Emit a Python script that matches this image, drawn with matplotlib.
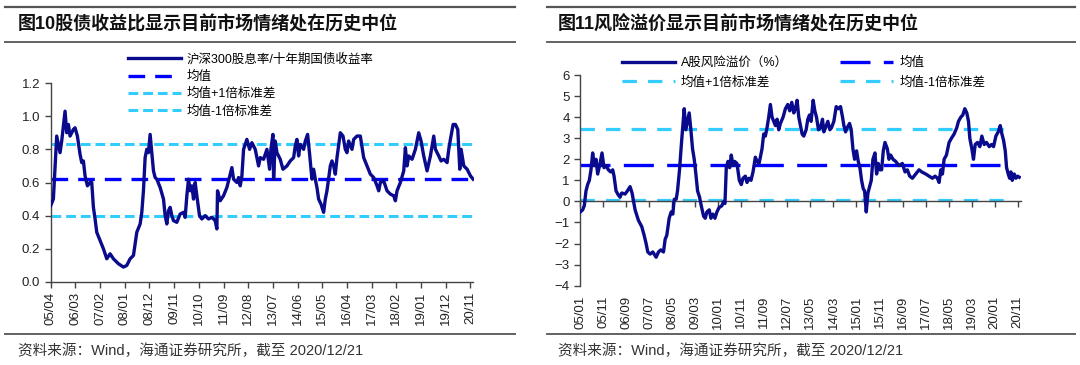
import matplotlib
matplotlib.use("Agg")
import matplotlib.pyplot as plt
from matplotlib.lines import Line2D

# ---------------- data ----------------
# Figure 10: CSI300 dividend yield / 10Y treasury yield (x in decimal years)
left_x = [2005.250, 2005.349, 2005.473, 2005.597, 2005.659, 2005.783, 2005.845, 2005.907, 2005.969,
          2006.093, 2006.154, 2006.241, 2006.340, 2006.402, 2006.464, 2006.526, 2006.613, 2006.712,
          2006.774, 2006.836, 2006.898, 2006.960, 2007.084, 2007.208, 2007.332, 2007.455, 2007.579,
          2007.765, 2007.951, 2008.075, 2008.199, 2008.323, 2008.447, 2008.571, 2008.633, 2008.694,
          2008.756, 2008.818, 2008.880, 2008.942, 2009.004, 2009.066, 2009.128, 2009.190, 2009.314,
          2009.438, 2009.500, 2009.562, 2009.624, 2009.686, 2009.748, 2009.810, 2009.933, 2010.057,
          2010.181, 2010.243, 2010.305, 2010.367, 2010.429, 2010.491, 2010.553, 2010.615, 2010.677,
          2010.776, 2010.863, 2010.987, 2011.111, 2011.234, 2011.358, 2011.420, 2011.445, 2011.544,
          2011.668, 2011.792, 2011.916, 2011.978, 2012.040, 2012.164, 2012.226, 2012.288, 2012.350,
          2012.412, 2012.535, 2012.635, 2012.721, 2012.845, 2012.969, 2013.031, 2013.155, 2013.279,
          2013.378, 2013.427, 2013.502, 2013.527, 2013.589, 2013.650, 2013.774, 2013.874, 2014.022,
          2014.146, 2014.270, 2014.332, 2014.394, 2014.456, 2014.518, 2014.642, 2014.704, 2014.790,
          2014.865, 2014.951, 2015.013, 2015.075, 2015.137, 2015.199, 2015.286, 2015.385, 2015.447,
          2015.509, 2015.633, 2015.695, 2015.757, 2015.819, 2015.881, 2016.005, 2016.104, 2016.190,
          2016.252, 2016.314, 2016.438, 2016.500, 2016.624, 2016.748, 2016.872, 2016.996, 2017.120,
          2017.244, 2017.368, 2017.430, 2017.492, 2017.615, 2017.739, 2017.863, 2017.987, 2018.049,
          2018.111, 2018.235, 2018.359, 2018.421, 2018.483, 2018.545, 2018.669, 2018.792, 2018.916,
          2019.003, 2019.102, 2019.226, 2019.350, 2019.474, 2019.536, 2019.660, 2019.746, 2019.846,
          2019.970, 2020.031, 2020.093, 2020.193, 2020.279, 2020.366, 2020.440, 2020.490, 2020.589,
          2020.713, 2020.837, 2020.936]
left_y = [0.46, 0.50, 0.88, 0.78, 0.85, 1.03, 0.90, 0.95, 0.88,
          0.92, 0.93, 0.88, 0.77, 0.72, 0.73, 0.64, 0.58, 0.60,
          0.60, 0.45, 0.38, 0.30, 0.25, 0.20, 0.14, 0.17, 0.14,
          0.11, 0.09, 0.10, 0.14, 0.16, 0.30, 0.35, 0.42, 0.55,
          0.75, 0.80, 0.78, 0.89, 0.78, 0.67, 0.63, 0.62, 0.57,
          0.50, 0.40, 0.35, 0.43, 0.45, 0.40, 0.37, 0.36, 0.41,
          0.42, 0.39, 0.52, 0.62, 0.55, 0.58, 0.50, 0.60, 0.52,
          0.40, 0.38, 0.40, 0.38, 0.39, 0.37, 0.32, 0.55, 0.49,
          0.52, 0.57, 0.65, 0.69, 0.62, 0.60, 0.63, 0.58, 0.64,
          0.80, 0.86, 0.80, 0.84, 0.80, 0.70, 0.75, 0.74, 0.80,
          0.68, 0.80, 0.89, 0.62, 0.85, 0.78, 0.74, 0.68, 0.70,
          0.73, 0.75, 0.82, 0.86, 0.76, 0.83, 0.80, 0.85, 0.89,
          0.77, 0.62, 0.68, 0.62, 0.57, 0.50, 0.47, 0.42, 0.50,
          0.55, 0.70, 0.73, 0.70, 0.65, 0.75, 0.90, 0.88, 0.80,
          0.78, 0.85, 0.80, 0.86, 0.88, 0.88, 0.75, 0.70, 0.65,
          0.63, 0.58, 0.55, 0.60, 0.61, 0.55, 0.53, 0.52, 0.49,
          0.55, 0.60, 0.67, 0.81, 0.70, 0.76, 0.74, 0.80, 0.90,
          0.85, 0.76, 0.67, 0.76, 0.88, 0.80, 0.76, 0.73, 0.74,
          0.72, 0.80, 0.86, 0.95, 0.95, 0.92, 0.68, 0.80, 0.70,
          0.68, 0.64, 0.62]
left_mean, left_up, left_dn = 0.62, 0.83, 0.40
left_ticklabels = ["05/04", "06/03", "07/02", "08/01", "08/12", "09/11", "10/10", "11/09", "12/08",
                   "13/07", "14/06", "15/05", "16/04", "17/03", "18/02", "19/01", "19/12", "20/11"]

# Figure 11: A-share equity risk premium (%)
right_x = [2005.000, 2005.085, 2005.145, 2005.206, 2005.266, 2005.327, 2005.387, 2005.448, 2005.508,
           2005.569, 2005.629, 2005.714, 2005.786, 2005.859, 2005.931, 2006.016, 2006.101, 2006.173,
           2006.222, 2006.294, 2006.379, 2006.439, 2006.500, 2006.621, 2006.706, 2006.802, 2006.875,
           2006.984, 2007.105, 2007.226, 2007.310, 2007.383, 2007.443, 2007.528, 2007.625, 2007.746,
           2007.831, 2007.915, 2008.012, 2008.072, 2008.133, 2008.218, 2008.290, 2008.351, 2008.399,
           2008.472, 2008.520, 2008.593, 2008.665, 2008.762, 2008.822, 2008.883, 2008.943, 2009.004,
           2009.064, 2009.125, 2009.185, 2009.246, 2009.318, 2009.379, 2009.464, 2009.524, 2009.584,
           2009.669, 2009.730, 2009.802, 2009.875, 2009.947, 2010.020, 2010.129, 2010.189, 2010.238,
           2010.286, 2010.347, 2010.407, 2010.467, 2010.528, 2010.588, 2010.673, 2010.758, 2010.830,
           2010.891, 2010.976, 2011.036, 2011.109, 2011.181, 2011.254, 2011.338, 2011.399, 2011.471,
           2011.520, 2011.580, 2011.641, 2011.701, 2011.762, 2011.822, 2011.883, 2011.943, 2012.004,
           2012.064, 2012.125, 2012.185, 2012.246, 2012.342, 2012.427, 2012.512, 2012.584, 2012.657,
           2012.730, 2012.790, 2012.850, 2012.911, 2012.971, 2013.032, 2013.092, 2013.177, 2013.238,
           2013.298, 2013.358, 2013.431, 2013.492, 2013.552, 2013.625, 2013.697, 2013.770, 2013.818,
           2013.879, 2013.963, 2014.036, 2014.096, 2014.181, 2014.266, 2014.338, 2014.423, 2014.495,
           2014.544, 2014.604, 2014.665, 2014.750, 2014.810, 2014.871, 2014.931, 2015.004, 2015.064,
           2015.125, 2015.185, 2015.245, 2015.294, 2015.354, 2015.415, 2015.475, 2015.536, 2015.596,
           2015.669, 2015.729, 2015.790, 2015.850, 2015.911, 2015.971, 2016.032, 2016.116, 2016.177,
           2016.237, 2016.322, 2016.419, 2016.540, 2016.661, 2016.758, 2016.842, 2016.927, 2017.024,
           2017.145, 2017.266, 2017.362, 2017.508, 2017.628, 2017.749, 2017.846, 2017.931, 2017.991,
           2018.052, 2018.112, 2018.173, 2018.257, 2018.354, 2018.439, 2018.536, 2018.632, 2018.693,
           2018.778, 2018.850, 2018.923, 2018.995, 2019.056, 2019.104, 2019.177, 2019.237, 2019.298,
           2019.383, 2019.467, 2019.540, 2019.625, 2019.709, 2019.806, 2019.891, 2019.963, 2020.048,
           2020.132, 2020.205, 2020.266, 2020.326, 2020.387, 2020.435, 2020.495, 2020.544, 2020.592,
           2020.640, 2020.713, 2020.773, 2020.834, 2020.894]
right_y = [-0.5, -0.4, -0.2, 0.5, 0.8, 1.0, 1.5, 2.3, 1.7,
           2.0, 1.3, 1.8, 2.3, 1.6, 1.7, 1.5, 1.4, 1.5,
           1.2, 0.5, 0.3, 0.2, 0.4, 0.35, 0.5, 0.7, 0.4,
           -0.4, -0.9, -1.2, -1.6, -2.0, -2.4, -2.5, -2.4, -2.65,
           -2.4, -2.3, -2.4, -1.8, -1.6, -0.8, -0.5, -0.6, 0.1,
           0.1, 0.5, 1.5, 2.8, 4.4, 3.4, 3.8, 4.2, 3.4,
           2.5, 2.0, 1.3, 0.5, 0.2, -0.2, -0.7, -0.8, -0.5,
           -0.4, -0.8, -0.6, -0.8, -0.5, -0.3, -0.2, 0.0, -0.1,
           1.6, 1.9, 1.6, 2.2, 1.7, 1.9, 1.8, 1.0, 0.8,
           1.1, 1.2, 0.9, 1.1, 1.0, 1.4, 2.1, 1.9, 1.8,
           2.1, 2.5, 3.2, 3.1, 3.5, 4.0, 4.6, 4.0, 3.8,
           3.6, 3.9, 3.4, 3.7, 4.0, 4.4, 4.6, 4.3, 4.7,
           4.2, 4.4, 4.8, 4.0, 3.6, 3.2, 3.1, 3.4, 3.9,
           4.1, 3.8, 4.8, 4.3, 4.0, 3.4, 3.5, 3.9, 3.3,
           3.5, 3.8, 3.4, 3.5, 3.8, 4.5, 4.4, 4.5, 4.0,
           3.6, 3.3, 3.5, 3.7, 3.4, 2.5, 2.0, 2.4, 1.9,
           1.6, 1.0, 0.6, 0.5, -0.5, 0.4, 0.7, 1.0, 2.0,
           2.3, 1.3, 1.8, 1.5, 1.5, 2.4, 2.8, 2.5, 2.0,
           2.2, 2.0, 1.9, 1.7, 1.8, 1.4, 1.5, 1.2, 1.1,
           1.3, 1.5, 1.4, 1.3, 1.2, 1.1, 1.2, 1.1, 0.9,
           1.5, 1.3, 2.0, 2.2, 2.8, 3.0, 3.2, 3.5, 3.8,
           4.0, 4.1, 4.4, 4.2, 3.8, 3.0, 2.5, 2.0, 2.7,
           2.8, 2.6, 3.1, 2.7, 2.8, 2.6, 2.7, 2.6, 3.1,
           3.3, 3.6, 3.2, 2.9, 2.4, 1.6, 1.3, 1.1, 1.4,
           1.0, 1.3, 1.1, 1.2, 1.15]
right_mean, right_up, right_dn = 1.75, 3.45, 0.05
right_ticklabels = ["05/01", "05/11", "06/09", "07/07", "08/05", "09/03", "10/01", "10/11", "11/09",
                    "12/07", "13/05", "14/03", "15/01", "15/11", "16/09", "17/07", "18/05", "19/03",
                    "20/01", "20/11"]

titles = ["图10股债收益比显示目前市场情绪处在历史中位", "图11风险溢价显示目前市场情绪处在历史中位"]
source = "资料来源：Wind，海通证券研究所，截至 2020/12/21"
left_labels = ["沪深300股息率/十年期国债收益率", "均值", "均值+1倍标准差", "均值-1倍标准差"]
right_labels = ["A股风险溢价（%）", "均值", "均值+1倍标准差", "均值-1倍标准差"]

# ---------------- style ----------------
FAM = ["Liberation Sans", "Noto Sans CJK SC"]
plt.rcParams["font.family"] = FAM
NAVY = "#0A0A8C"
BLUE = "#0000FF"
LIGHT = "#33CCFF"
TXT = "#222222"
W, H = 1080, 365


def label_pos(lbl):
    yy, mm = lbl.split("/")
    return 2000 + int(yy) + (int(mm) - 1) / 12.0


fig = plt.figure(figsize=(W / 100, H / 100), dpi=100)

# decorative rules and texts
for x0, x1 in [(5, 515), (547, 1075)]:
    for yp in (7, 42, 334):
        fig.add_artist(Line2D([x0 / W, x1 / W], [1 - yp / H, 1 - yp / H], color="#555555",
                              lw=1.3 if yp != 7 else 1.6, transform=fig.transFigure))
for xt, t in [(18, titles[0]), (558, titles[1])]:
    fig.text(xt / W, 1 - 24 / H, t, fontsize=13, fontweight="bold", va="center", ha="left",
             family=FAM, color="#111111")
    fig.text(xt / W, 1 - 351 / H, source, fontsize=10.5, va="center", ha="left", family=FAM,
             color="#333333")

# ---------------- left chart ----------------
axL = fig.add_axes([50.7 / W, 1 - 282 / H, 422.8 / W, 199 / H])
axL.plot(left_x, left_y, color=NAVY, lw=2.4, solid_joinstyle="round", zorder=3, label=left_labels[0])
axL.axhline(left_mean, color=BLUE, lw=2.4, dashes=(5, 3), label=left_labels[1], zorder=2)
axL.axhline(left_up, color=LIGHT, lw=2.2, dashes=(3.2, 1.6), label=left_labels[2], zorder=2)
axL.axhline(left_dn, color=LIGHT, lw=2.2, dashes=(3.2, 1.6), label=left_labels[3], zorder=2)
axL.set_xlim(2005.25, 2020.95)
axL.set_ylim(0, 1.2)
axL.set_yticks([0.0, 0.2, 0.4, 0.6, 0.8, 1.0, 1.2])
axL.set_yticklabels([f"{v:.1f}" for v in [0.0, 0.2, 0.4, 0.6, 0.8, 1.0, 1.2]])
axL.set_xticks([label_pos(l) for l in left_ticklabels])
axL.set_xticklabels(left_ticklabels, rotation=90)
for s in ("top", "right"):
    axL.spines[s].set_visible(False)
for s in ("left", "bottom"):
    axL.spines[s].set_color("#444444")
    axL.spines[s].set_linewidth(1.0)
axL.tick_params(axis="both", labelsize=9.5, colors="#444444", labelcolor=TXT, length=4, width=1.0)
axL.tick_params(axis="x", pad=3)
axL.legend(loc="upper left", bbox_to_anchor=(128 / W, 1 - 53 / H), bbox_transform=fig.transFigure,
           frameon=False, handlelength=4.2, handletextpad=0.5, labelspacing=0.42,
           borderpad=0, borderaxespad=0, prop={"family": FAM, "size": 9})

# ---------------- right chart ----------------
axR = fig.add_axes([580.3 / W, 1 - 285.7 / H, 440.5 / W, 210.7 / H])
lr0, = axR.plot(right_x, right_y, color=NAVY, lw=2.4, solid_joinstyle="round", zorder=3)
lr1 = axR.axhline(right_mean, color=BLUE, lw=2.4, dashes=(9, 4), zorder=2, xmax=0.975)
lr2 = axR.axhline(right_up, color=LIGHT, lw=2.3, dashes=(4.5, 3.5), zorder=2, xmax=0.975)
lr3 = axR.axhline(right_dn, color=LIGHT, lw=2.3, dashes=(4.5, 3.5), zorder=2, xmax=0.975)
axR.set_xlim(2005.0, 2020.95)
axR.set_ylim(-4, 6)
axR.set_yticks(range(-4, 7))
axR.spines["bottom"].set_position(("data", 0))
for s in ("top", "right"):
    axR.spines[s].set_visible(False)
for s in ("left", "bottom"):
    axR.spines[s].set_color("#444444")
    axR.spines[s].set_linewidth(1.0)
rt = [label_pos(l) for l in right_ticklabels]
axR.set_xticks(rt)
axR.tick_params(axis="x", labelbottom=False, length=4, width=1.0, colors="#444444")
axR.tick_params(axis="y", labelsize=9.5, colors="#444444", labelcolor=TXT, length=4, width=1.0)
sec = axR.secondary_xaxis(0)
sec.set_xticks(rt)
sec.set_xticklabels(right_ticklabels, rotation=90)
sec.tick_params(length=0, labelsize=9.5, labelcolor=TXT, pad=7)
sec.spines["bottom"].set_visible(False)
axR.legend([lr0, lr2, lr1, lr3], [right_labels[0], right_labels[2], right_labels[1], right_labels[3]],
           ncol=2, loc="upper left", bbox_to_anchor=(622 / W, 1 - 57 / H), bbox_transform=fig.transFigure,
           frameon=False, handlelength=4.2, handletextpad=0.5, labelspacing=0.6, columnspacing=4.2,
           borderpad=0, borderaxespad=0, prop={"family": FAM, "size": 9})

fig.savefig("out.png", dpi=100)
